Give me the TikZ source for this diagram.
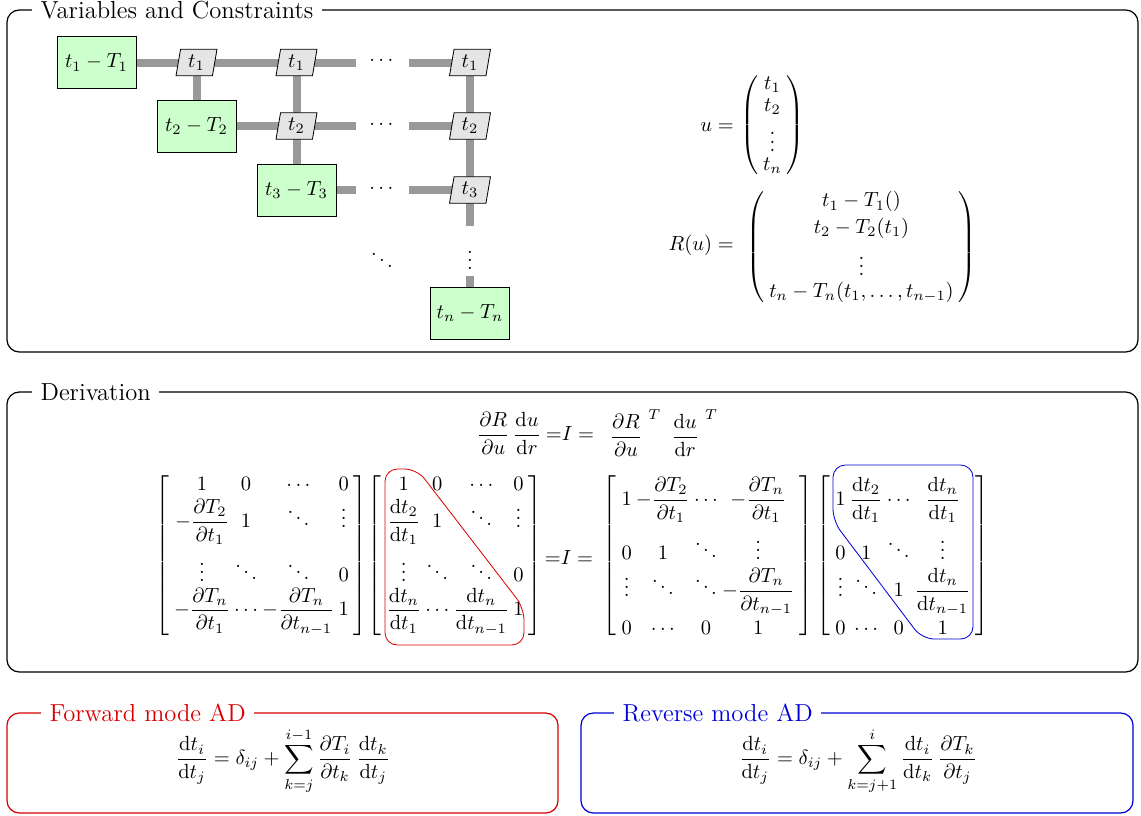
\documentclass[tikz,border=0pt]{standalone}
\usepackage{amsmath}
\usetikzlibrary{matrix,shapes.geometric,backgrounds}
\tikzset{
  grp/.style={semithick, rounded corners=6pt},
  grptitle/.style={fill=white, font=\large, inner sep=4pt, anchor=west},
  cbox/.style={draw=black, fill=green!20, minimum width=38.5pt, minimum height=25.4pt, inner sep=2pt},
  vbox/.style={trapezium, trapezium left angle=77, trapezium right angle=103, draw=black, fill=gray!20,
    minimum height=13pt, minimum width=20pt, inner sep=1pt, trapezium stretches body},
  link/.style={draw=gray!80, line width=3.9pt},
  mat/.style={matrix of math nodes, inner sep=0pt, nodes={inner xsep=1pt, inner ysep=1.5pt},
    left delimiter={[}, right delimiter={]}},
  vec/.style={matrix of math nodes, inner sep=0pt, nodes={inner xsep=1pt, inner ysep=1.5pt},
    left delimiter=(, right delimiter=)},
  hlred/.style={draw=red!85!black, rounded corners=6pt},
  hlblue/.style={draw=blue!85!black, rounded corners=6pt},
}
\begin{document}
\begin{tikzpicture}[x=0.4878pt,y=-0.4878pt]
\useasboundingbox (0,0) rectangle (1141,815);
% ---------- frames ----------
\draw[grp, draw=black] (7,10) rectangle (1138,352);
\node[grptitle] (title1) at (32,10) {Variables and Constraints};
\draw[grp, draw=black] (7,392) rectangle (1138,672);
\node[grptitle] (title2) at (32,392) {Derivation};
\draw[grp, draw=red!85!black] (7,713) rectangle (558,813);
\node[grptitle, text=red!85!black] (title3) at (41,713) {Forward mode AD};
\draw[grp, draw=blue!85!black] (581,713) rectangle (1133,813);
\node[grptitle, text=blue!85!black] (title4) at (614,713) {Reverse mode AD};

% ---------- variables grid ----------
\node[cbox] (g1) at (96.5,62.5) {$t_1 - T_1$};
\node[cbox] (g2) at (196.5,126) {$t_2 - T_2$};
\node[cbox] (g3) at (296.5,190) {$t_3 - T_3$};
\node[cbox] (gn) at (470,313) {$t_n - T_n$};
\node[vbox] (p11) at (196.5,62.5) {$t_1$};
\node[vbox] (p12) at (296.5,62.5) {$t_1$};
\node[vbox] (p13) at (470,62.5) {$t_1$};
\node[vbox] (p22) at (296.5,126) {$t_2$};
\node[vbox] (p23) at (470,126) {$t_2$};
\node[vbox] (p33) at (470,190) {$t_3$};
\node (c1) at (383,61) {$\cdots$};
\node (c2) at (383,124.5) {$\cdots$};
\node (c3) at (383,188.5) {$\cdots$};
\node (dd) at (382,254) {$\ddots$};
\node (vd) at (470,254) {$\vdots$};
\coordinate (h1a) at (356,62.5);
\coordinate (h1b) at (409,62.5);
\coordinate (h2a) at (356,126);
\coordinate (h2b) at (409,126);
\coordinate (h3a) at (356,190);
\coordinate (h3b) at (409,190);
\coordinate (v1) at (470,226);
\coordinate (v2) at (470,276);
\begin{scope}[on background layer]
\draw[link] (g1.center) -- (p11.center) -- (p12.center) -- (h1a);
\draw[link] (h1b) -- (p13.center);
\draw[link] (g2.center) -- (p22.center) -- (h2a);
\draw[link] (h2b) -- (p23.center);
\draw[link] (g3.center) -- (h3a);
\draw[link] (h3b) -- (p33.center);
\draw[link] (p11.center) -- (g2.center);
\draw[link] (p12.center) -- (p22.center) -- (g3.center);
\draw[link] (p13.center) -- (p23.center) -- (p33.center) -- (v1);
\draw[link] (v2) -- (gn.center);
\end{scope}

% ---------- u and R(u) ----------
\node[anchor=east] (ulab) at (741,127) {$u =$};
\matrix[vec] (umat) at (772.5,125) {
  t_1 \\
  t_2 \\
  \vdots \\
  t_n \\
};
\node[anchor=east] (rlab) at (741,245) {$R(u) =$};
\matrix[vec] (rmat) at (861.5,247) {
  t_1 - T_1() \\
  t_2 - T_2(t_1) \\
  \vdots \\
  t_n - T_n(t_1,\dots,t_{n-1}) \\
};

% ---------- derivation ----------
\node (eqa) at (509,433) {$\displaystyle\frac{\partial R}{\partial u}\,\frac{\mathrm{d}u}{\mathrm{d}r}$};
\node (eqb) at (570,433) {${=}I =$};
\node[anchor=west] (eqc) at (600,433) {$\displaystyle\left.\frac{\partial R}{\partial u}\,\right.^{T}\hspace{2pt}\left.\frac{\mathrm{d}u}{\mathrm{d}r}\,\right.^{T}$};

\matrix[mat] (m1) at (261.5,556) {
  1 & 0 & \cdots & 0 \\
  -\dfrac{\partial T_2}{\partial t_1} & 1 & \ddots & \vdots \\
  \vdots & \ddots & \ddots & 0 \\
  -\dfrac{\partial T_n}{\partial t_1} & \cdots & -\dfrac{\partial T_n}{\partial t_{n-1}} & 1 \\
};
\matrix[mat] (m2) at (455,556) {
  1 & 0 & \cdots & 0 \\
  \dfrac{\mathrm{d}t_2}{\mathrm{d}t_1} & 1 & \ddots & \vdots \\
  \vdots & \ddots & \ddots & 0 \\
  \dfrac{\mathrm{d}t_n}{\mathrm{d}t_1} & \cdots & \dfrac{\mathrm{d}t_n}{\mathrm{d}t_{n-1}} & 1 \\
};
\node (eqd) at (569,557) {${=}I =$};
\matrix[mat] (m3) at (708,556) {
  1 & -\dfrac{\partial T_2}{\partial t_1} & \cdots & -\dfrac{\partial T_n}{\partial t_1} \\
  0 & 1 & \ddots & \vdots \\
  \vdots & \ddots & \ddots & -\dfrac{\partial T_n}{\partial t_{n-1}} \\
  0 & \cdots & 0 & 1 \\
};
\matrix[mat] (m4) at (903,556) {
  1 & \dfrac{\mathrm{d}t_2}{\mathrm{d}t_1} & \cdots & \dfrac{\mathrm{d}t_n}{\mathrm{d}t_1} \\
  0 & 1 & \ddots & \vdots \\
  \vdots & \ddots & 1 & \dfrac{\mathrm{d}t_n}{\mathrm{d}t_{n-1}} \\
  0 & \cdots & 0 & 1 \\
};
\draw[hlred] (385,469) -- (417,469) -- (524,608) -- (524,645) -- (385,645) -- cycle;
\draw[hlblue] (833,465) -- (973,465) -- (973,639) -- (922,639) -- (833,521) -- cycle;

% ---------- AD formulas ----------
\node (fwd) at (283,761) {$\displaystyle\frac{\mathrm{d}t_i}{\mathrm{d}t_j} = \delta_{ij} + \sum_{k=j}^{i-1}\frac{\partial T_i}{\partial t_k}\,\frac{\mathrm{d}t_k}{\mathrm{d}t_j}$};
\node (rev) at (858,761) {$\displaystyle\frac{\mathrm{d}t_i}{\mathrm{d}t_j} = \delta_{ij} + \sum_{k=j+1}^{i}\frac{\mathrm{d}t_i}{\mathrm{d}t_k}\,\frac{\partial T_k}{\partial t_j}$};
\end{tikzpicture}
\end{document}
